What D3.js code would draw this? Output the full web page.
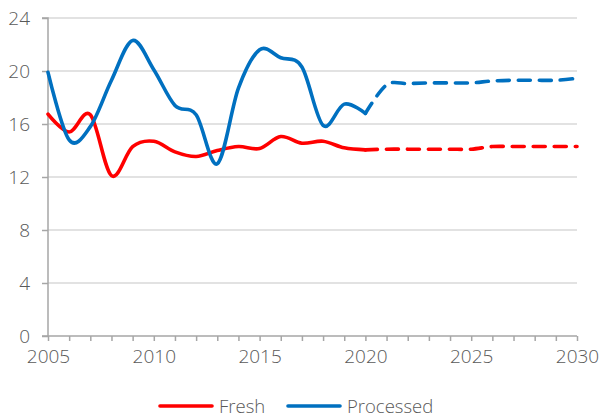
<!DOCTYPE html>
<html><head><meta charset="utf-8">
<script src="https://cdn.jsdelivr.net/npm/d3@7"></script>
<style>body{margin:0;background:#fff}svg{display:block}text{font-family:"Open Sans",sans-serif;font-weight:300;fill:#595959}</style>
</head><body>
<svg id="c" width="601" height="419"></svg>
<script>
const years = d3.range(2005, 2031);
const freshHist = [16.75,15.4,16.7,12.1,14.3,14.7,13.9,13.55,14.0,14.3,14.15,15.05,14.55,14.7,14.2,14.05];
const freshProj = [14.05,14.1,14.1,14.1,14.1,14.1,14.3,14.3,14.3,14.3,14.3];
const procHist = [19.9,14.8,15.8,19.3,22.3,20.1,17.4,16.7,13.0,18.7,21.6,21.0,20.3,15.9,17.5,16.8];
const procProj = [16.8,18.95,19.05,19.1,19.1,19.1,19.25,19.3,19.3,19.3,19.45];
const yTicks = [0,4,8,12,16,20,24];
const xTicks = [2005,2010,2015,2020,2025,2030];
const seriesNames = ["Fresh","Processed"];
const colors = ["#ff0000","#0070c0"];

const svg = d3.select("#c");
const x = d3.scaleLinear().domain([2005,2030]).range([48,577]);
const y = d3.scaleLinear().domain([0,24]).range([336,18]);

svg.append("g").selectAll("line").data(yTicks.filter(d=>d>0)).join("line")
  .attr("x1",x(2005)).attr("x2",x(2030)).attr("y1",d=>y(d)).attr("y2",d=>y(d))
  .attr("stroke","#d9d9d9").attr("stroke-width",1.5);

const ya = svg.append("g").attr("transform",`translate(${x(2005)},0)`)
  .call(d3.axisLeft(y).tickValues(yTicks).tickSize(6).tickPadding(12));
ya.select(".domain").attr("stroke","#a6a6a6").attr("stroke-width",1.5).attr("d",`M-6,${y(24)}H0V${y(0)}H-6`);
ya.selectAll(".tick line").attr("stroke","#a6a6a6").attr("stroke-width",1.5);
ya.selectAll(".tick text").attr("font-size",19).attr("fill","#595959").attr("font-family","Open Sans");

const xa = svg.append("g").attr("transform",`translate(0,${y(0)})`)
  .call(d3.axisBottom(x).tickValues(years).tickSize(5).tickFormat(d=>xTicks.includes(d)?d:"").tickPadding(6));
xa.select(".domain").attr("stroke","#a6a6a6").attr("stroke-width",1.5).attr("d",`M${x(2005)},0H${x(2030)}`);
xa.selectAll(".tick line").attr("stroke","#a6a6a6").attr("stroke-width",1.5);
xa.selectAll(".tick text").attr("font-size",19).attr("fill","#595959").attr("font-family","Open Sans").attr("dy","0.85em");

const line = d3.line().x(d=>x(d[0])).y(d=>y(d[1])).curve(d3.curveCatmullRom.alpha(0));
function draw(vals, start, color, dashed){
  svg.append("path").datum(vals.map((v,i)=>[start+i,v]))
    .attr("d",line).attr("fill","none").attr("stroke",color).attr("stroke-width",3.6)
    .attr("stroke-linecap","round").attr("stroke-linejoin","round")
    .attr("stroke-dasharray",dashed?"12,9":null);
}
draw(freshHist,2005,colors[0],false);
draw(freshProj,2020,colors[0],true);
draw(procHist,2005,colors[1],false);
draw(procProj,2020,colors[1],true);

const lg = svg.append("g");
const lx = [160,288];
seriesNames.forEach((n,i)=>{
  lg.append("line").attr("x1",lx[i]).attr("x2",lx[i]+52).attr("y1",406).attr("y2",406)
    .attr("stroke",colors[i]).attr("stroke-width",3.6).attr("stroke-linecap","round");
  lg.append("text").attr("x",lx[i]+59).attr("y",413).attr("font-size",18.5).text(n);
});
</script>
</body></html>
